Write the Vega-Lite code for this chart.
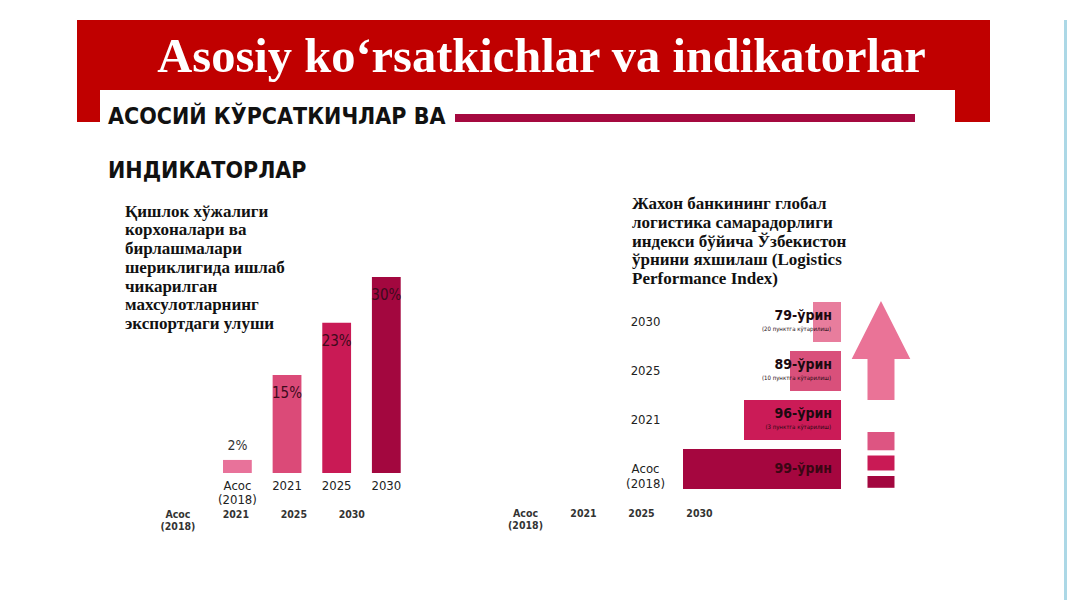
{
  "$schema": "https://vega.github.io/schema/vega-lite/v6.json",
  "padding": {"left": 77, "top": 20, "right": 0, "bottom": 0},
  "background": "white",
  "config": {"view": {"stroke": null}},
  "spacing": 74,
  "hconcat": [
    {
      "spacing": 0,
      "center": true,
      "vconcat": [
        {
          "width": 913,
          "height": 70,
          "data": {"values": [{"title": "Asosiy ko‘rsatkichlar va indikatorlar"}]},
          "layer": [
            {"mark": {"type": "rect", "color": "#c00000"}, "encoding": {}},
            {
              "mark": {"type": "text", "color": "white", "font": "Liberation Serif", "fontSize": 48.5, "fontWeight": "bold", "align": "center", "baseline": "middle", "dx": 8, "dy": 2},
              "encoding": {"text": {"field": "title"}}
            }
          ]
        },
        {
          "spacing": 0,
          "hconcat": [
            {
              "width": 23,
              "height": 32,
              "data": {"values": [{"part": "banner"}]},
              "mark": {"type": "rect", "color": "#c00000"},
              "encoding": {}
            },
            {
              "spacing": 0,
              "vconcat": [
                {
                  "spacing": 7,
                  "center": true,
                  "hconcat": [
                    {
                      "width": 348,
                      "height": 56,
                      "data": {"values": [{"block": "heading", "text": "АСОСИЙ КЎРСАТКИЧЛАР ВА"}]},
                      "mark": {"type": "text", "align": "left", "baseline": "middle", "font": "DejaVu Sans Condensed", "fontSize": 23, "fontWeight": "bold", "color": "#111111", "dx": 8, "dy": -1},
                      "encoding": {
                        "x": {"field": "block", "type": "nominal", "scale": {"type": "point", "padding": 0, "align": 0}, "axis": null},
                        "text": {"field": "text"}
                      }
                    },
                    {
                      "width": 460,
                      "height": 8,
                      "data": {"values": [{"part": "rule"}]},
                      "mark": {"type": "rect", "color": "#a5093f"},
                      "encoding": {}
                    }
                  ]
                },
                {
                  "width": 855,
                  "height": 49,
                  "data": {"values": [{"block": "heading", "text": "ИНДИКАТОРЛАР"}]},
                  "mark": {"type": "text", "align": "left", "baseline": "middle", "font": "DejaVu Sans Condensed", "fontSize": 23, "fontWeight": "bold", "color": "#111111", "dx": 8, "dy": 0},
                  "encoding": {
                    "x": {"field": "block", "type": "nominal", "scale": {"type": "point", "padding": 0, "align": 0}, "axis": null},
                    "text": {"field": "text"}
                  }
                }
              ]
            },
            {
              "width": 35,
              "height": 32,
              "data": {"values": [{"part": "banner"}]},
              "mark": {"type": "rect", "color": "#c00000"},
              "encoding": {}
            }
          ]
        },
        {
          "spacing": 11,
          "bounds": "flush",
          "resolve": {"scale": {"color": "independent", "shape": "independent"}},
          "hconcat": [
            {
              "width": 277,
              "height": 196,
              "title": {
                "text": ["Қишлок хўжалиги", "корхоналари ва", "бирлашмалари", "шериклигида ишлаб", "чикарилган", "махсулотларнинг", "экспортдаги улуши"],
                "anchor": "start",
                "frame": "group",
                "dx": 0,
                "offset": -56,
                "font": "Liberation Serif",
                "fontSize": 17,
                "fontWeight": "bold",
                "color": "#111111",
                "lineHeight": 18.7
              },
              "layer": [
                {
                  "data": {"values": [
                    {"period": "Асос (2018)", "share": 2, "label": "2%"},
                    {"period": "2021", "share": 15, "label": "15%"},
                    {"period": "2025", "share": 23, "label": "23%"},
                    {"period": "2030", "share": 30, "label": "30%"}
                  ]},
                  "layer": [
                    {
                      "mark": {"type": "bar"},
                      "encoding": {
                        "x": {
                          "field": "period", "type": "nominal", "sort": null,
                          "scale": {"type": "band", "domain": ["Асос (2018)", "2021", "2025", "2030"], "paddingInner": 0.42, "paddingOuter": 1, "align": 0.987},
                          "axis": {"title": null, "domain": false, "ticks": false, "tickSize": 0, "labelPadding": 6, "labelAngle": 0, "labelFont": "DejaVu Sans Condensed", "labelFontSize": 13, "labelColor": "#222222", "labelLineHeight": 14, "labelExpr": "split(datum.value, ' ')"}
                        },
                        "y": {"field": "share", "type": "quantitative", "scale": {"domain": [0, 30], "nice": false}, "axis": null},
                        "color": {"field": "period", "type": "nominal", "scale": {"domain": ["Асос (2018)", "2021", "2025", "2030"], "range": ["#e8729a", "#db4a78", "#c91a55", "#a3073f"]}, "legend": null}
                      }
                    },
                    {
                      "transform": [{"filter": "datum.share >= 10"}],
                      "mark": {"type": "text", "baseline": "top", "align": "center", "dy": 11, "font": "DejaVu Sans Condensed", "fontSize": 15, "color": "#3d0a1c"},
                      "encoding": {
                        "x": {"field": "period", "type": "nominal", "sort": null},
                        "y": {"field": "share", "type": "quantitative"},
                        "text": {"field": "label"}
                      }
                    },
                    {
                      "transform": [{"filter": "datum.share < 10"}],
                      "mark": {"type": "text", "baseline": "bottom", "align": "center", "dy": -7, "font": "DejaVu Sans Condensed", "fontSize": 14, "color": "#333333"},
                      "encoding": {
                        "x": {"field": "period", "type": "nominal", "sort": null},
                        "y": {"field": "share", "type": "quantitative"},
                        "text": {"field": "label"}
                      }
                    }
                  ]
                },
                {
                  "data": {"values": [{"period": "Асос (2018)"}, {"period": "2021"}, {"period": "2025"}, {"period": "2030"}]},
                  "mark": {"type": "text", "baseline": "top", "align": "center", "lineBreak": " ", "dy": 37, "font": "DejaVu Sans Condensed", "fontSize": 10.5, "fontWeight": "bold", "color": "#333333", "lineHeight": 12},
                  "encoding": {
                    "x": {"field": "period", "type": "nominal", "sort": null, "scale": {"type": "point", "domain": ["Асос (2018)", "2021", "2025", "2030"], "padding": 0.89, "align": 0.513}, "axis": null},
                    "y": {"datum": 0, "type": "quantitative"},
                    "text": {"field": "period"}
                  }
                }
              ],
              "resolve": {"scale": {"x": "independent"}}
            },
            {
              "width": 76,
              "height": 10,
              "data": {"values": [{"part": "gap"}]},
              "mark": {"type": "rect", "color": "white"},
              "encoding": {}
            },
            {
              "width": 341,
              "height": 237,
              "title": {
                "text": ["Жахон банкининг глобал", "логистика самарадорлиги", "индекси бўйича Ўзбекистон", "ўрнини яхшилаш (Logistics", "Performance Index)"],
                "anchor": "start",
                "frame": "group",
                "dx": 132,
                "offset": -11,
                "font": "Liberation Serif",
                "fontSize": 17,
                "fontWeight": "bold",
                "color": "#111111",
                "lineHeight": 18.7
              },
              "layer": [
                {
                  "data": {"values": [
                    {"period": "2030", "rank": "79-ўрин", "note": "(20 пунктга кўтарилиш)", "level": 28},
                    {"period": "2025", "rank": "89-ўрин", "note": "(10 пунктга кўтарилиш)", "level": 51},
                    {"period": "2021", "rank": "96-ўрин", "note": "(3 пунктга кўтарилиш)", "level": 97},
                    {"period": "Асос (2018)", "rank": "99-ўрин", "note": "", "level": 158}
                  ]},
                  "layer": [
                    {
                      "mark": {"type": "bar"},
                      "encoding": {
                        "y": {
                          "field": "period", "type": "nominal", "sort": null,
                          "scale": {"type": "band", "domain": ["2030", "2025", "2021", "Асос (2018)"], "paddingInner": 0.184, "paddingOuter": 0.51},
                          "axis": {"title": null, "orient": "left", "offset": -160, "domain": false, "ticks": false, "tickSize": 0, "labelPadding": 15, "labelAlign": "center", "labelBaseline": "middle", "labelFont": "DejaVu Sans Condensed", "labelFontSize": 13, "labelColor": "#222222", "labelLineHeight": 15, "labelExpr": "split(datum.value, ' ')"}
                        },
                        "x": {"field": "level", "type": "quantitative", "scale": {"domain": [0, 341], "reverse": true, "nice": false}, "axis": null},
                        "color": {"field": "period", "type": "nominal", "scale": {"domain": ["2030", "2025", "2021", "Асос (2018)"], "range": ["#e87d9d", "#d9507b", "#cb1b57", "#a5063f"]}, "legend": null}
                      }
                    },
                    {
                      "transform": [{"filter": "datum.note != ''"}],
                      "mark": {"type": "text", "align": "right", "baseline": "middle", "dx": -9, "dy": -6, "font": "DejaVu Sans Condensed", "fontSize": 14, "fontWeight": "bold", "color": "#1b0a10"},
                      "encoding": {
                        "y": {"field": "period", "type": "nominal", "sort": null},
                        "x": {"datum": 0, "type": "quantitative"},
                        "text": {"field": "rank"}
                      }
                    },
                    {
                      "transform": [{"filter": "datum.note != ''"}],
                      "mark": {"type": "text", "align": "right", "baseline": "middle", "dx": -10, "dy": 7, "font": "DejaVu Sans Condensed", "fontSize": 6, "color": "#1b0a10"},
                      "encoding": {
                        "y": {"field": "period", "type": "nominal", "sort": null},
                        "x": {"datum": 0, "type": "quantitative"},
                        "text": {"field": "note"}
                      }
                    },
                    {
                      "transform": [{"filter": "datum.note == ''"}],
                      "mark": {"type": "text", "align": "right", "baseline": "middle", "dx": -9, "dy": 0, "font": "DejaVu Sans Condensed", "fontSize": 14, "fontWeight": "bold", "color": "#3a0614"},
                      "encoding": {
                        "y": {"field": "period", "type": "nominal", "sort": null},
                        "x": {"datum": 0, "type": "quantitative"},
                        "text": {"field": "rank"}
                      }
                    }
                  ]
                },
                {
                  "data": {"values": [{"period": "Асос (2018)"}, {"period": "2021"}, {"period": "2025"}, {"period": "2030"}]},
                  "mark": {"type": "text", "baseline": "top", "align": "center", "lineBreak": " ", "dy": 40, "font": "DejaVu Sans Condensed", "fontSize": 10.5, "fontWeight": "bold", "color": "#333333", "lineHeight": 12},
                  "encoding": {
                    "x": {"field": "period", "type": "nominal", "sort": null, "scale": {"type": "band", "domain": ["Асос (2018)", "2021", "2025", "2030"], "paddingInner": 0.121, "paddingOuter": 1, "align": 0}, "axis": null},
                    "y": {"datum": "Асос (2018)", "type": "nominal"},
                    "text": {"field": "period"}
                  }
                }
              ],
              "resolve": {"scale": {"x": "independent"}}
            },
            {
              "width": 90,
              "height": 215,
              "data": {"values": [{"part": "arrow"}, {"part": "step 1"}, {"part": "step 2"}, {"part": "step 3"}]},
              "mark": {"type": "point", "filled": true, "opacity": 1, "size": 48400, "strokeWidth": 0},
              "encoding": {
                "shape": {
                  "field": "part", "type": "nominal",
                  "scale": {
                    "domain": ["arrow", "step 1", "step 2", "step 3"],
                    "range": [
                      "M-0.1455,-0.759L0.1209,-0.232L-0.0228,-0.232L-0.0228,0.1409L-0.2682,0.1409L-0.2682,-0.232L-0.4118,-0.232Z",
                      "M-0.2682,0.4318L-0.0228,0.4318L-0.0228,0.598L-0.2682,0.598Z",
                      "M-0.2682,0.6455L-0.0228,0.6455L-0.0228,0.7818L-0.2682,0.7818Z",
                      "M-0.2682,0.8318L-0.0228,0.8318L-0.0228,0.9391L-0.2682,0.9391Z"
                    ]
                  },
                  "legend": null
                },
                "color": {
                  "field": "part", "type": "nominal",
                  "scale": {"domain": ["arrow", "step 1", "step 2", "step 3"], "range": ["#ea7397", "#dd5582", "#c91a55", "#a3073f"]},
                  "legend": null
                }
              }
            }
          ]
        }
      ]
    },
    {
      "width": 3,
      "height": 580,
      "data": {"values": [{"part": "edge"}]},
      "mark": {"type": "rect", "color": "#acd8e6"},
      "encoding": {}
    }
  ]
}
